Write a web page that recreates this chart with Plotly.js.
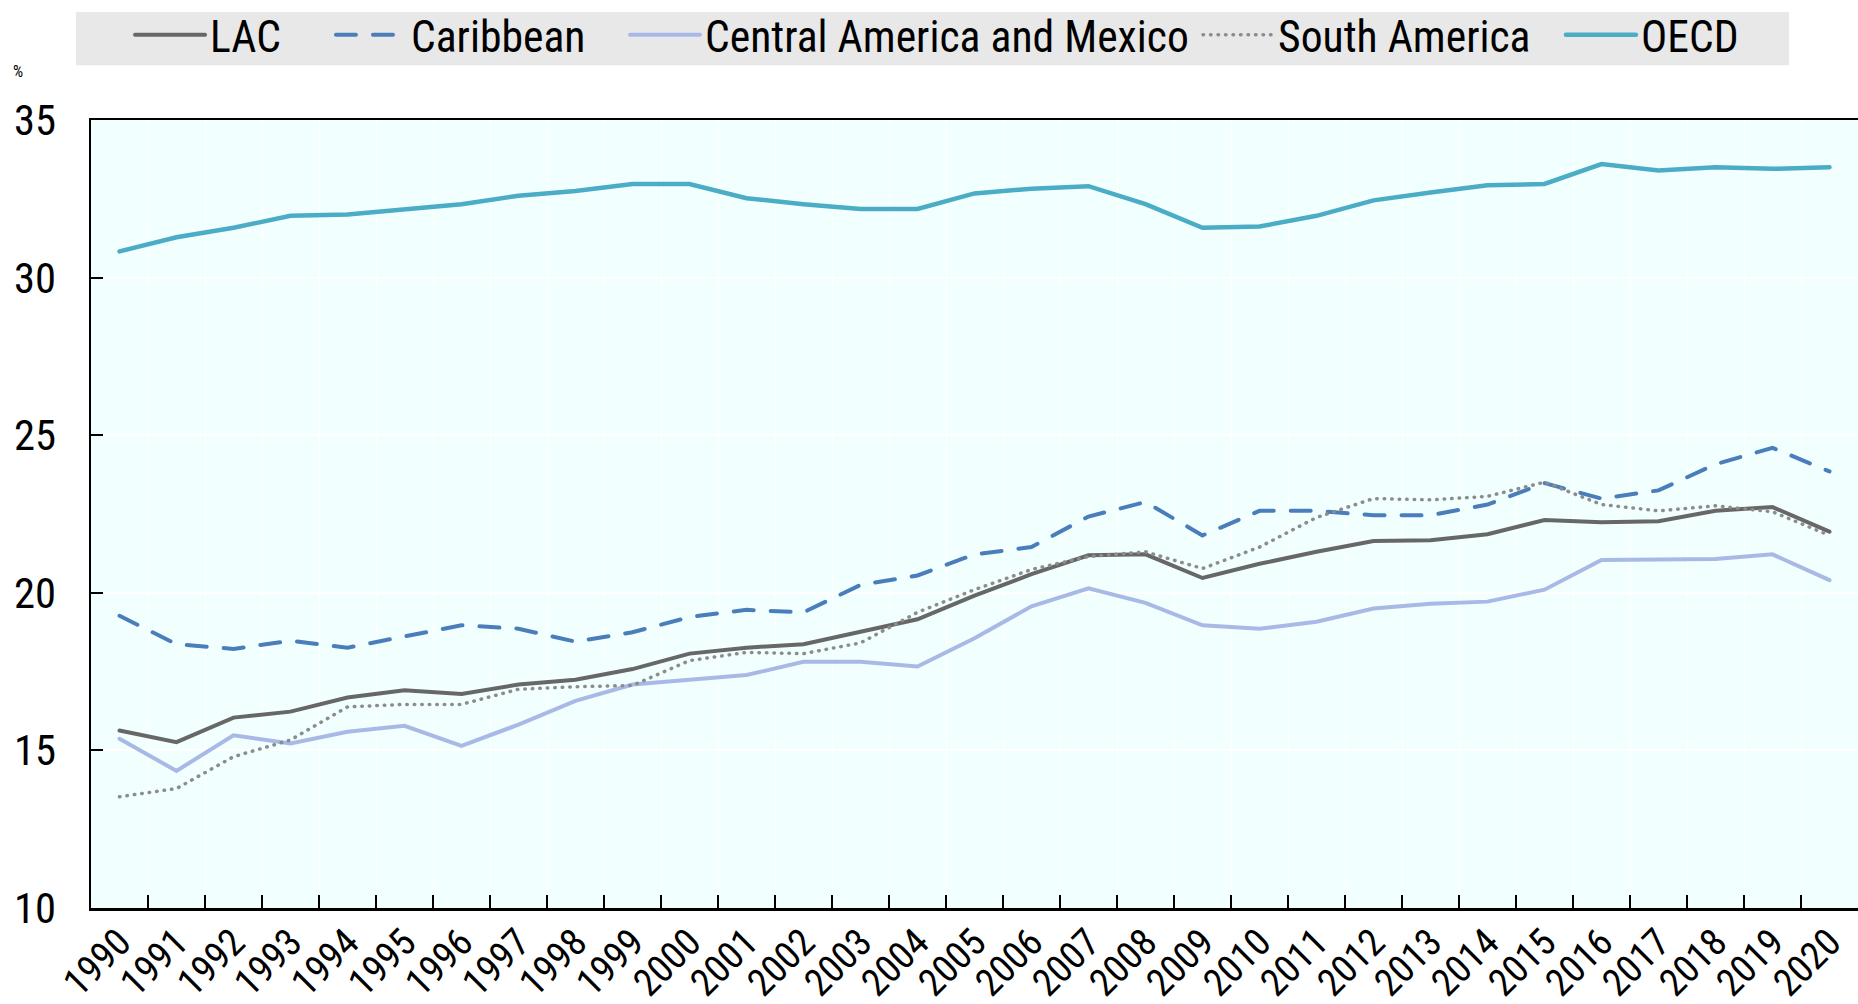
<!DOCTYPE html>
<html>
<head>
<meta charset="utf-8">
<script src="https://cdn.plot.ly/plotly-3.0.1.min.js"></script>
<style>html,body{margin:0;padding:0;background:#fff;}#chart{width:1858px;height:1004px;}#chart path.js-line{stroke-linecap:round;}</style>
</head>
<body>
<div id="chart"></div>
<script>
const years = ['1990','1991','1992','1993','1994','1995','1996','1997','1998','1999','2000','2001','2002','2003','2004','2005','2006','2007','2008','2009','2010','2011','2012','2013','2014','2015','2016','2017','2018','2019','2020'];
const lac = [15.63,15.26,16.04,16.23,16.68,16.91,16.79,17.09,17.24,17.58,18.07,18.26,18.37,18.75,19.16,19.91,20.59,21.19,21.22,20.47,20.92,21.30,21.64,21.67,21.86,22.31,22.24,22.27,22.60,22.72,21.94];
const caribbean = [19.27,18.37,18.22,18.48,18.26,18.63,18.97,18.86,18.45,18.75,19.23,19.46,19.38,20.25,20.55,21.22,21.45,22.42,22.88,21.82,22.60,22.60,22.46,22.46,22.80,23.48,22.99,23.25,24.08,24.60,23.85];
const centralAm = [15.37,14.35,15.48,15.22,15.59,15.78,15.14,15.82,16.57,17.09,17.24,17.39,17.81,17.81,17.66,18.56,19.57,20.14,19.68,18.97,18.86,19.08,19.50,19.65,19.72,20.10,21.04,21.07,21.07,21.22,20.40];
const southAm = [13.53,13.79,14.80,15.33,16.38,16.46,16.46,16.94,17.02,17.06,17.85,18.11,18.07,18.41,19.38,20.10,20.74,21.15,21.30,20.77,21.45,22.39,22.99,22.95,23.06,23.51,22.80,22.60,22.76,22.57,21.82];
const oecd = [30.83,31.28,31.58,31.96,32.00,32.15,32.33,32.60,32.75,32.97,32.97,32.52,32.33,32.18,32.18,32.67,32.82,32.90,32.33,31.58,31.62,31.96,32.45,32.70,32.93,32.97,33.60,33.40,33.50,33.45,33.50];
const seriesNames = ['LAC','Caribbean','Central America and Mexico','South America','OECD'];

// ---- choose a narrow font that is actually installed ----
function measure(family, stretch, txt) {
  const s = document.createElement('span');
  s.style.cssText = 'position:absolute;visibility:hidden;white-space:nowrap;font-size:41px;';
  s.style.fontFamily = family;
  s.style.fontStretch = stretch;
  s.textContent = txt;
  document.body.appendChild(s);
  const w = s.getBoundingClientRect().width;
  document.body.removeChild(s);
  return w;
}
const SAMPLE = 'Central America and Mexico';
const candidates = [
  ['"Liberation Sans Narrow"', 'normal'],
  ['"Arial Narrow"', 'normal'],
  ['"Roboto Condensed"', 'normal'],
  ['Roboto', '75%'],
  ['"Open Sans"', '75%'],
  ['"DejaVu Sans Condensed"', 'normal'],
  ['"DejaVu Sans"', 'condensed'],
  ['"Liberation Sans"', 'normal']
];
let FAMILY = '"Liberation Sans", Arial, sans-serif', STRETCH = 'normal';
for (const [fam, st] of candidates) {
  const wMono = measure('monospace', 'normal', SAMPLE);
  const wA = measure(fam + ', monospace', 'normal', SAMPLE);
  const wB = measure(fam + ', serif', 'normal', SAMPLE);
  const installed = Math.abs(wA - wMono) > 0.5 || Math.abs(wA - wB) < 0.5;
  if (!installed) continue;
  if (st !== 'normal') {
    const wS = measure(fam + ', monospace', st, SAMPLE);
    if (wS > wA * 0.93) continue;
  }
  FAMILY = fam + ', sans-serif'; STRETCH = st; break;
}
const styleEl = document.createElement('style');
styleEl.textContent = '#chart text { font-stretch: ' + STRETCH + ' !important; }';
document.head.appendChild(styleEl);
const wChosen = measure(FAMILY, STRETCH, SAMPLE);
const k = Math.min(1.25, Math.max(0.7, 440 / wChosen)) * 1.1;
const LEG = 41 * k, YT = 40 * k, XT = 36 * k;

const traces = [
  {x: years, y: lac, name: seriesNames[0], legend: 'legend', mode: 'lines', line: {color: '#676767', width: 4}},
  {x: years, y: caribbean, name: seriesNames[1], legend: 'legend2', mode: 'lines', line: {color: '#4a7ebb', width: 4, dash: '20px,17px'}},
  {x: years, y: centralAm, name: seriesNames[2], legend: 'legend3', mode: 'lines', line: {color: '#a9b9e6', width: 4}},
  {x: years, y: southAm, name: seriesNames[3], legend: 'legend4', mode: 'lines', line: {color: '#8c8c8c', width: 3.5, dash: '0.5px,7px'}},
  {x: years, y: oecd, name: seriesNames[4], legend: 'legend5', mode: 'lines', line: {color: '#4bacc6', width: 4.5}}
];

function leg(x) {
  return {
    orientation: 'h', x: x, xanchor: 'left', y: 1.108, yanchor: 'middle',
    bgcolor: 'rgba(0,0,0,0)', font: {family: FAMILY, size: LEG, color: '#000'},
    itemwidth: 70
  };
}

const layout = {
  width: 1858, height: 1004,
  margin: {l: 91, r: 0, t: 118, b: 96, pad: 0},
  paper_bgcolor: '#ffffff',
  plot_bgcolor: '#f2ffff',
  font: {family: FAMILY, size: LEG, color: '#000'},
  showlegend: true,
  legend: leg(0.0221),
  legend2: leg(0.1358),
  legend3: leg(0.3022),
  legend4: leg(0.6265),
  legend5: leg(0.8319),
  xaxis: {
    type: 'category', range: [-0.5, 30.5], tickson: 'boundaries',
    ticks: 'inside', ticklen: 13, tickwidth: 2, tickcolor: '#000',
    showline: true, linecolor: '#000', linewidth: 2.5, mirror: true,
    showgrid: true, gridcolor: '#ffffff', gridwidth: 1,
    tickangle: -45, tickfont: {family: FAMILY, size: XT}, automargin: false,
    ticklabelstandoff: -6, fixedrange: true
  },
  yaxis: {
    range: [10, 35], dtick: 5, tick0: 10,
    ticks: 'inside', ticklen: 12, tickwidth: 2, tickcolor: '#000',
    showline: true, linecolor: '#000', linewidth: 2.5,
    showgrid: true, gridcolor: '#ffffff', gridwidth: 2, zeroline: false,
    tickfont: {family: FAMILY, size: YT}, ticklabelstandoff: 24, automargin: false,
    fixedrange: true
  },
  shapes: [{
    type: 'rect', xref: 'paper', yref: 'paper', layer: 'below',
    x0: -0.0085, x1: 0.961, y0: 1.0696, y1: 1.137,
    fillcolor: '#e8e8e8', line: {width: 0}
  }],
  annotations: [{
    text: '%', xref: 'paper', yref: 'paper', x: -0.045, y: 1.062,
    xanchor: 'left', yanchor: 'middle', showarrow: false,
    font: {family: FAMILY, size: 16, color: '#000'}
  }]
};

Plotly.newPlot('chart', traces, layout, {displayModeBar: false, staticPlot: true});
</script>
</body>
</html>
